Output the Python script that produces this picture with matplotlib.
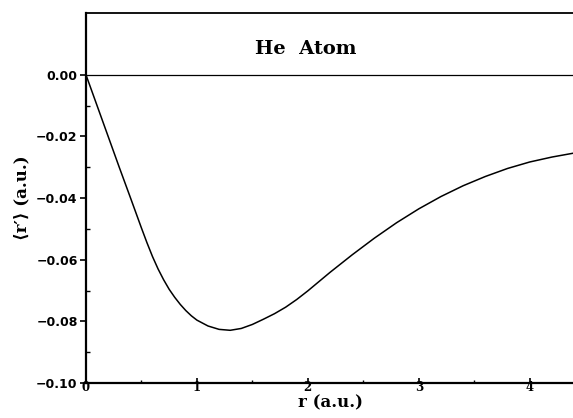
import matplotlib
matplotlib.use("Agg")
import matplotlib.pyplot as plt

# values
r = [0, 0.1, 0.2, 0.3, 0.4, 0.5, 0.55, 0.6, 0.65, 0.7, 0.75, 0.8, 0.85,
     0.9, 0.95, 1.0, 1.1, 1.2, 1.3, 1.4, 1.5, 1.6, 1.7, 1.8, 1.9, 2.0, 2.1,
     2.2, 2.4, 2.6, 2.8, 3.0, 3.2, 3.4, 3.6, 3.8, 4.0, 4.2, 4.4]
rp = [0, -0.0100, -0.0200, -0.0300, -0.0398, -0.0497, -0.0545, -0.0590,
      -0.0630, -0.0665, -0.0696, -0.0722, -0.0745, -0.0765, -0.0782, -0.0796,
      -0.0815, -0.0826, -0.0829, -0.0823, -0.0810, -0.0793, -0.0775, -0.0754,
      -0.0729, -0.0701, -0.0671, -0.0641, -0.0584, -0.0530, -0.0480, -0.0435,
      -0.0395, -0.0360, -0.0330, -0.0304, -0.0283, -0.0267, -0.0254]

xticks = [0, 1, 2, 3, 4]
xminor = [0.5, 1.5, 2.5, 3.5]
yticks = [0.00, -0.02, -0.04, -0.06, -0.08, -0.10]
ylabels = ["0.00", "\u22120.02", "\u22120.04", "\u22120.06", "\u22120.08", "\u22120.10"]
yminor = [-0.01, -0.03, -0.05, -0.07, -0.09]

serif = ["DejaVu Serif"]

fig = plt.figure(figsize=(5.73, 4.18), dpi=100)
ax = fig.add_axes([0.150, 0.0837, 0.852, 0.885])

ax.plot(r, rp, color="black", lw=1.1)
ax.axhline(0, color="black", lw=0.9)

ax.set_xlim(0, 4.4)
ax.set_ylim(-0.10, 0.02)

ax.spines["right"].set_visible(False)
ax.spines["left"].set_linewidth(1.6)
ax.spines["bottom"].set_linewidth(1.6)
ax.spines["top"].set_linewidth(1.3)

ax.set_xticks(xticks)
ax.set_xticks(xminor, minor=True)
ax.set_xticklabels([str(t) for t in xticks], fontfamily=serif,
                   fontweight="bold", fontsize=8.5)
ax.set_yticks(yticks)
ax.set_yticks(yminor, minor=True)
ax.set_yticklabels(ylabels, fontfamily="DejaVu Sans", fontweight="bold",
                   fontsize=9)

ax.tick_params(axis="x", which="major", direction="in", length=3.5,
               width=1.2, pad=-1.5)
ax.tick_params(axis="x", which="minor", direction="in", length=2.5,
               width=1.0)
ax.tick_params(axis="y", which="major", direction="out", length=4,
               width=1.2, pad=2)
ax.tick_params(axis="y", which="minor", direction="in", length=3,
               width=1.0)

ax.set_xlabel("r (a.u.)", fontfamily=serif, fontweight="bold",
              fontsize=12, labelpad=0)
ax.set_ylabel("\u27e8r\u2032\u27e9 (a.u.)", family=["DejaVu Serif", "DejaVu Sans"],
              fontweight="bold", fontsize=12, labelpad=4)

ax.text(1.98, 0.0083, "He  Atom", fontfamily=serif, fontweight="bold",
        fontsize=14, ha="center", va="center")

fig.savefig("out.png", dpi=100)
